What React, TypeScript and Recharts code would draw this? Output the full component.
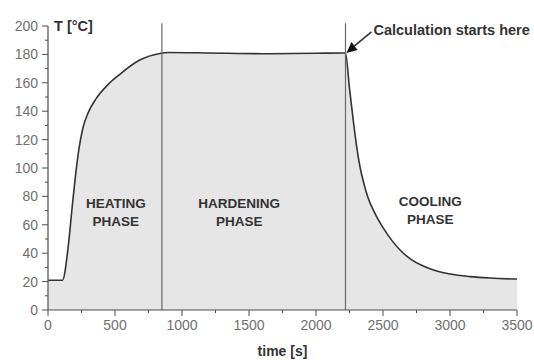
import { Area, AreaChart, ReferenceDot, ReferenceLine, XAxis, YAxis } from 'recharts';

// time [s] and temperature [°C]
const time = [
  0, 108, 150, 180, 207, 230, 260, 300, 360, 440, 536, 685, 835, 900, 1200, 1600, 2000, 2220,
  2250, 2280, 2305, 2330, 2355, 2385, 2440, 2500, 2570, 2640, 2720, 2800, 2900, 3000, 3150, 3300, 3500,
];
const temperature = [
  21, 21, 44, 72, 96, 113, 128, 139, 149, 158, 166, 176, 180.6, 181.3, 181, 180.5, 180.8, 181,
  156, 132, 114, 100, 90, 80, 68, 58, 48.5, 41, 35, 31, 27.5, 25.3, 23.5, 22.5, 21.8,
];

const timeTicks = [0, 250, 500, 750, 1000, 1250, 1500, 1750, 2000, 2250, 2500, 2750, 3000, 3250, 3500];
const tempTicks = [0, 10, 20, 30, 40, 50, 60, 70, 80, 90, 100, 110, 120, 130, 140, 150, 160, 170, 180, 190, 200];

// boundaries between heating / hardening / cooling
const phaseBounds = [850, 2220];
const phaseNames = ['HEATING', 'HARDENING', 'COOLING'];

const data = time.map((t, i) => ({ t, T: temperature[i] }));

const FONT = 'Arial, "Liberation Sans", Helvetica, sans-serif';
const AXIS = '#4d4d4d';
const LABEL = '#707070';
const TEXT = '#333333';
const TICK_SIZE = 6;
const TICK_MARGIN = 4;

function YTick(props: any) {
  const { x, y, payload } = props;
  const axisX = x + TICK_SIZE + TICK_MARGIN;
  const major = payload.value % 20 === 0;
  return (
    <g>
      <line x1={axisX - (major ? 6 : 3)} x2={axisX} y1={y} y2={y} stroke={AXIS} strokeWidth={1} />
      {major && (
        <text x={x} y={y} dy="0.36em" textAnchor="end" fill={LABEL} fontSize={14} fontFamily={FONT}>
          {payload.value}
        </text>
      )}
    </g>
  );
}

function XTick(props: any) {
  const { x, y, payload } = props;
  const axisY = y - TICK_SIZE - TICK_MARGIN;
  const major = payload.value % 500 === 0;
  return (
    <g>
      <line x1={x} x2={x} y1={axisY} y2={axisY + (major ? 6 : 3)} stroke={AXIS} strokeWidth={1} />
      {major && (
        <text x={x} y={y} dy="0.72em" textAnchor="middle" fill={LABEL} fontSize={14} fontFamily={FONT}>
          {payload.value}
        </text>
      )}
    </g>
  );
}

// label positions inside each phase (data coords)
const phaseLabelAt = [
  { t: 506, T: 69 },
  { t: 1427, T: 69 },
  { t: 2853, T: 70 },
];

export default function App() {
  const startIdx = time.indexOf(phaseBounds[1]);
  return (
    <div style={{ position: 'absolute', left: 0, top: 0, width: 534, height: 360, background: '#fff' }}>
      <AreaChart width={534} height={360} data={data} margin={{ top: 26, right: 17, bottom: 0, left: 0 }}>
        <XAxis
          dataKey="t"
          type="number"
          domain={[0, 3500]}
          ticks={timeTicks}
          interval={0}
          height={50}
          tickSize={TICK_SIZE}
          tickMargin={TICK_MARGIN}
          tickLine={false}
          tick={<XTick />}
          axisLine={{ stroke: AXIS, strokeWidth: 1.2 }}
          label={{
            value: 'time [s]',
            position: 'insideBottom',
            offset: 4,
            fill: TEXT,
            fontSize: 14,
            fontWeight: 'bold',
            fontFamily: FONT,
          }}
        />
        <YAxis
          type="number"
          domain={[0, 200]}
          ticks={tempTicks}
          interval={0}
          width={48}
          tickSize={TICK_SIZE}
          tickMargin={TICK_MARGIN}
          tickLine={false}
          tick={<YTick />}
          axisLine={{ stroke: AXIS, strokeWidth: 1.2 }}
        />
        <Area
          type="monotone"
          dataKey="T"
          stroke="#333"
          strokeWidth={1.6}
          fill="#e6e6e6"
          fillOpacity={1}
          isAnimationActive={false}
          dot={false}
          activeDot={false}
        />
        {phaseBounds.map((b) => (
          <ReferenceLine
            key={b}
            segment={[
              { x: b, y: 0 },
              { x: b, y: 202 },
            ]}
            stroke="#6a6a6a"
            strokeWidth={1.2}
            ifOverflow="visible"
          />
        ))}
        {phaseNames.map((name, i) => (
          <ReferenceDot
            key={name}
            x={phaseLabelAt[i].t}
            y={phaseLabelAt[i].T}
            ifOverflow="visible"
            shape={(p: any) => (
              <text
                x={p.cx}
                y={p.cy}
                textAnchor="middle"
                fill={TEXT}
                fontSize={13.5}
                fontWeight="bold"
                fontFamily={FONT}
              >
                <tspan x={p.cx} dy={-9 + 4.8}>
                  {name}
                </tspan>
                <tspan x={p.cx} dy={18}>
                  PHASE
                </tspan>
              </text>
            )}
          />
        ))}
        <ReferenceDot
          x={0}
          y={200}
          ifOverflow="visible"
          shape={(p: any) => (
            <text x={p.cx + 6} y={p.cy + 5} fill={TEXT} fontSize={14.5} fontWeight="bold" fontFamily={FONT}>
              T [°C]
            </text>
          )}
        />
        <ReferenceDot
          x={time[startIdx]}
          y={temperature[startIdx]}
          ifOverflow="visible"
          shape={(p: any) => {
            const tx = p.cx + 1;
            const ty = p.cy;
            return (
              <g>
                <line x1={tx + 8} y1={ty - 7} x2={tx + 25} y2={ty - 21} stroke={TEXT} strokeWidth={1.6} />
                <polygon
                  points={`${tx},${ty} ${tx + 11},${ty - 3} ${tx + 5},${ty - 11}`}
                  fill="#111"
                />
                <text x={tx + 27} y={ty - 18} fill={TEXT} fontSize={14.5} fontWeight="bold" fontFamily={FONT}>
                  Calculation starts here
                </text>
              </g>
            );
          }}
        />
      </AreaChart>
    </div>
  );
}
